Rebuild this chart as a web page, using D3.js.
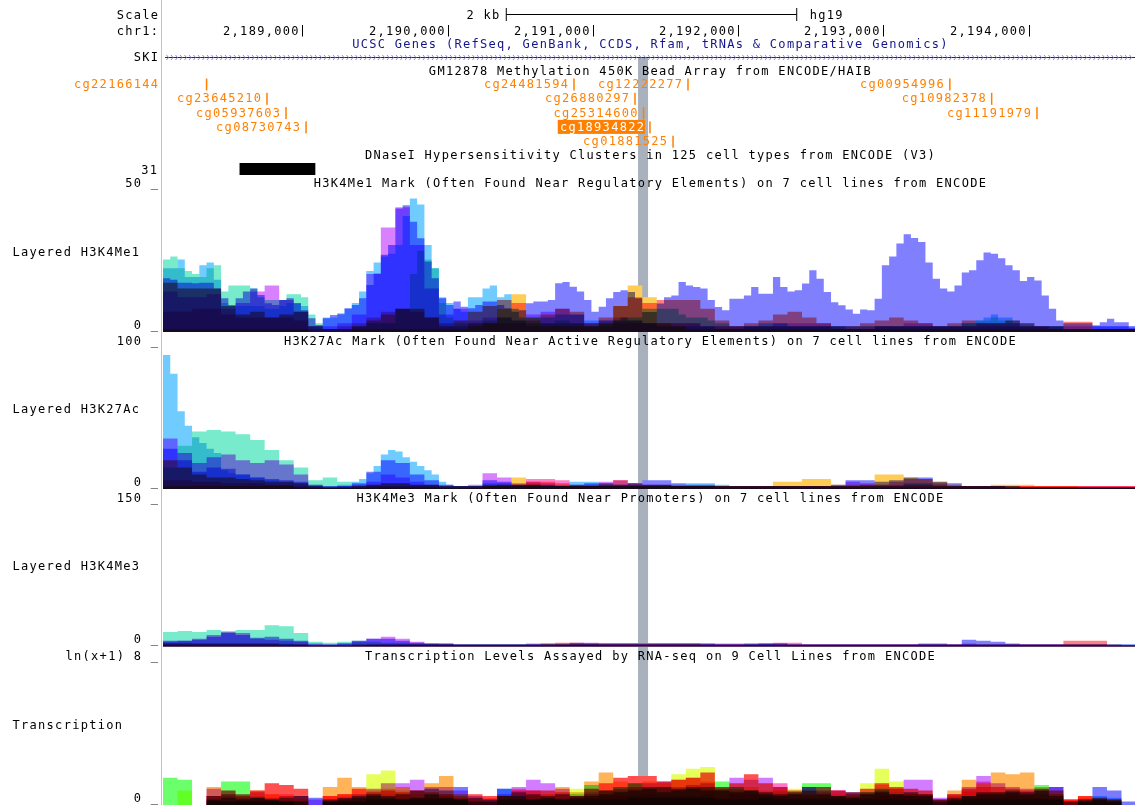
<!DOCTYPE html>
<html><head><meta charset="utf-8">
<script src="https://cdn.jsdelivr.net/npm/d3@7"></script>
<style>
html,body{margin:0;padding:0;background:#fff;overflow:hidden}
svg{display:block}
text{font-family:"DejaVu Sans Mono","Liberation Mono",monospace;font-size:12px;letter-spacing:1.3px;fill:#000}
</style></head><body>
<svg id="c" width="1135" height="805"></svg>
<script>
// ---------------- DATA ----------------
const viewStart = 2188040, viewEnd = 2194733;
const binStart = 2188040;            // first bin of every signal array
const coarseBin = 100, fineBin = 50; // bp per value
const genomeTicks = [2189000, 2190000, 2191000, 2192000, 2193000, 2194000];
const highlightRange = [2191311, 2191380];
const dnaseCluster = [2188567, 2189089];
const dnaseScore = "31";

const cpgNames = ["cg22166144","cg24481594","cg12222277","cg00954996","cg23645210","cg26880297","cg10982378","cg05937603","cg25314600","cg11191979","cg08730743","cg18934822","cg01881525"];
const cpgPos   = [2188340,2190870,2191655,2193458,2188756,2191290,2193746,2188887,2191349,2194058,2189025,2191393,2191552];
const cpgRow   = [0,0,0,0,1,1,1,2,2,2,3,3,4];
const cpgSelected = "cg18934822";

const cellLines = ["GM12878","H1-hESC","HSMM","HUVEC","K562","NHEK","NHLF"];
const cellColors = ["#ff8080","#ffcc55","#78ebcc","#8080ff","#70ccff","#d980ff","#ff80c8"];

// H3K4Me1 (0-50)
const me1_GM12878 = [17,15,15,15, 9,6,7,5,6,7, 2,1,1,2,4, 6,8,8,5,2, 4,7,9,11,10, 4,6,8,7,3, 5,9,12,10,11, 11,11,8,4,2, 3,4,6,7,5, 3,2,2,3,4, 5,4,3,2,3, 4,3,3,4,3, 2,2,3.5,3.5,1, 1,1];
const me1_H1 = [1,1,1,1, 1,1,1,1,1,1, 0,0,0,1,1, 1,1,1,1,1, 1,2,3,8,13, 5,2,2,2,2, 3,9,16,12,3, 2,1,1,1,1, 1,1,1,1,1, 1,1,1,1,1, 1,1,1,1,1, 1,1,1,1,1, 1,1,1,1,1, 1,1];
// 50 bp resolution
const me1_HSMM = [25,26,22,21,20,19,22,23,14,16, 16,16,15,12,11,11,11,13,13,12, 6,3,1,1,1,1,2,2,3,3, 3,3,8,8,20,28,25,22,10,5, 3,3,3,3,4,4,5,5,4,4, 3,3,3,3,4,4,3,3,2,2, 3,3,4,5,5,5,
  8,8,8,8,8,6,5,5,5,4, 3,3,2,2,2,2,2,2,2,2, 2,2,2,2,2,2,2,2,2,2, 2,2,2,2,2,2,2,2,2,2, 2,2,2,2,3,3,4,4,5,4, 4,3,2,2,2,2,2,2,1,1, 1,1,1,1,1,1,1,1];
const me1_HUVEC = [18.5,18,17,17,16.8,17,17,15,11.6,9.3, 11.6,14,15,12.8,9.9,9.3,11,11.6,9.9,7.5, 4.7,2.4,4.7,5.9,6.4,8.2,9.3,11.6,16.2,20.2, 26.6,30,42.6,43.7,38,32.3,24.3,18.5,11.6,9.3, 10.5,8.7,8.2,9.3,10.5,10.5,9.3,8.2,7,7.5, 9.9,10.5,10.5,11,16.8,17.2,15.6,14,11,7, 8.7,11.6,13.8,14.4,13.8,11.6,
  6.9,6.9,9.8,12,12.6,17.2,16,15.5,15,11, 8.6,7.5,11.5,11.5,12.6,15.5,13.2,13.2,19,15.5, 14,14.4,16.7,21.3,18.4,13.8,10.3,9.2,7.8,6.3, 7.8,7.5,11.5,23,26,30.5,33.7,32.4,31,24, 18.4,15,14,16,20.5,21.3,24.7,27.4,27,25.4, 23,21.3,17.6,19,17.8,12.6,8,4,3,3, 3,3,2.3,3.4,4.6,3.4,3.4,1.3];
const me1_K562 = [22,22,25,19,19,23,24,18,10,9, 9,9,9,9,8,8,9,10,10,9, 2,2,5,5,6,8,10,14,21,24, 26,27,30,40,46,44,30,22,12,10, 8,7,12,12,15,16,12,13,8,5, 5,5,5,5,6,6,6,6,4,4, 4,4,4,4,4,4,
  3,3,2,2,2,2,2,2,2,2, 1,1,1,1,2,2,3,3,3,3, 2,2,2,2,2,2,2,2,1,1, 1,1,2,2,2,2,2,2,2,2, 2,2,2,2,3,3,4,5,6,5, 5,4,3,3,2,2,2,2,1,1, 1,1,2,2,2,2,2,2];
const me1_NHEK = [14,12,12,13, 8,10,14,16,11,7, 2,2,3,6,20, 36,43,30,15,6, 8,4,5,5,4, 6,7,8,6,3, 4,5,4,3,3, 3,3,2,2,2, 2,2,3,3,3, 3,2,2,2,2, 2,3,3,2,2, 2,3,3,3,2, 2,2,2,2,2, 2,2];
const me1_NHLF = [7,7,8,8, 6,5,5,5,5,4, 1,1,2,3,5, 7,8,7,5,3, 2,3,3,3,3, 2,3,3,3,2, 2,3,3,3,3, 3,3,2,2,2, 2,2,2,2,2, 2,1,1,1,2, 2,2,2,2,2, 2,2,2,2,2, 2,1,1,1,1, 1,1];

// H3K27Ac (0-100)
const ac_GM12878 = [20,15,10,8, 8,7,6,5,5,4, 2,1,1,2,3, 4,4,3,3,2, 2,2,3,3,3, 5,5,4,2,2, 4,6,4,3,3, 2,2,2,2,2, 2,2,2,2,2, 2,2,2,3,3, 3,3,3,3,2, 2,2,2,2,2, 2,2,2,2,2, 2,2];
const ac_H1 = [2,2,2,2, 2,2,2,2,2,1, 1,1,1,1,1, 1,1,1,1,1, 1,1,2,3,8, 4,2,2,2,2, 2,2,2,2,2, 2,2,2,2,2, 2,2,5,5,7, 7,3,3,3,10, 10,8,7,5,3, 2,2,3,3,3, 2,2,2,1,1, 1,1];
const ac_HSMM = [15,30,40,41, 40,38,34,27,20,15, 6,8,5,2,3, 4,4,3,3,2, 2,2,2,2,2, 2,2,2,2,2, 2,2,2,2,2, 2,2,2,1,1, 1,1,1,1,1, 1,1,1,1,1, 1,1,1,1,1, 1,1,1,1,1, 1,1,1,1,1, 1,1];
const ac_HUVEC = [28,20,12,15, 14,10,8,7,6,5, 2,1,2,4,12, 20,18,10,6,3, 2,2,6,5,3, 3,3,2,3,4, 3,3,4,6,6, 4,3,3,2,2, 2,2,2,2,2, 2,3,6,6,5, 6,8,8,5,4, 2,2,2,1,1, 1,1,1,1,1, 1,1];
// 50 bp resolution
const ac_K562 = [93,80,54,44,36,32,28,25,13,11, 10,10,8,8,6,6,5,5,4,4, 3,3,2,2,3,3,5,7,11,16, 24,27,26,22,19,16,13,10,5,3, 2,2,2,2,4,4,4,4,3,3, 3,3,2,2,2,2,5,5,5,5, 4,4,3,3,3,3,
  3,3,3,3,3,3,4,4,4,4, 3,3,2,2,2,2,2,2,2,2, 2,2,2,2,2,2,2,2,2,2, 2,2,2,2,2,2,4,4,4,4, 2,2,2,2,2,2,2,2,2,2, 2,2,1,1,1,1,1,1,1,1, 1,1,1,1,1,1,1,1];
const ac_NHEK = [35,25,18,22, 24,20,18,20,17,10, 3,2,2,3,5, 10,8,5,3,2, 2,3,11,8,4, 5,4,3,2,3, 5,6,4,3,3, 2,2,2,2,2, 2,2,2,2,2, 2,2,5,4,3, 5,7,7,4,2, 2,2,2,1,1, 1,1,1,1,1, 1,1];
const ac_NHLF = [6,6,5,5, 4,4,4,3,3,2, 1,1,1,1,2, 2,2,2,2,1, 1,1,2,2,2, 7,7,6,3,2, 2,2,2,2,2, 2,2,2,2,2, 2,2,2,2,2, 2,2,2,2,2, 2,2,2,2,2, 2,2,2,2,2, 2,2,2,2,2, 2,2];

// H3K4Me3 (0-150)
const me3_GM12878 = [3,3,3,3, 3,3,3,3,2,2, 1,1,1,2,2, 2,2,2,2,2, 2,2,2,2,2, 2,3,4,4,3, 3,3,3,3,3, 3,3,2,2,2, 2,2,2,2,2, 2,2,2,2,2, 2,2,2,2,2, 2,2,2,2,2, 2,2,6,6,6, 2,1];
const me3_H1 = [1,1,1,1, 1,1,1,1,1,1, 1,1,1,1,1, 1,1,1,1,1, 1,1,1,1,1, 1,1,1,1,1, 1,1,1,1,1, 1,1,1,1,1, 1,1,1,1,1, 1,1,1,1,1, 1,1,1,1,1, 1,1,1,1,1, 1,1,1,1,1, 1,1];
const me3_HSMM = [15,16,15,17, 16,17,17,22,21,14, 5,4,5,6,5, 4,4,3,3,2, 2,2,2,2,2, 2,2,2,2,2, 1,1,1,1,1, 1,1,1,1,1, 1,1,1,1,1, 1,1,1,1,1, 1,1,1,1,1, 1,1,1,1,1, 1,1,1,1,1, 1,1];
const me3_HUVEC = [6,6,7,10, 14,12,9,10,8,6, 2,2,3,6,8, 8,6,4,3,3, 2,2,2,2,2, 2,2,2,3,3, 3,3,3,3,3, 3,3,3,2,2, 2,3,3,2,2, 2,2,2,2,2, 2,2,3,3,2, 7,6,5,3,2, 2,2,2,2,2, 2,2];
const me3_K562 = [4,4,3,3, 3,3,3,3,3,2, 1,1,1,2,2, 2,2,2,2,2, 2,2,2,2,2, 2,2,2,2,2, 2,2,2,2,2, 2,2,2,2,2, 3,3,2,2,2, 2,2,2,2,2, 2,2,2,2,2, 2,2,2,2,2, 2,2,2,2,2, 2,2];
const me3_NHEK = [5,6,8,12, 15,14,8,7,6,5, 3,2,3,5,8, 10,8,5,3,3, 2,2,2,2,2, 3,3,3,4,4, 3,3,3,3,3, 3,3,3,3,3, 3,3,3,2,2, 2,2,2,2,2, 2,2,2,2,2, 3,2,2,2,2, 2,2,2,2,2, 1,1];
const me3_NHLF = [2,2,2,2, 2,2,2,2,2,2, 1,1,1,1,2, 2,2,2,2,2, 1,1,1,1,1, 1,1,2,2,2, 2,2,2,2,2, 2,2,2,2,2, 2,2,4,4,2, 2,2,2,2,2, 2,2,2,2,2, 2,2,2,2,2, 2,2,2,2,2, 1,1];

// Transcription ln(x+1) (0-8), 9 cell lines
const txColors = ["#6cff6c","#e6ff5a","#ffb45a","#ff5050","#d27dff","#7a7aff","#6ec8ff","#ff78c8","#ff8c8c"];
const tx_1 = [1.5,1.4,0,0.3,1.3, 1.3,0.4,0.3,0.2,0, 0,0.2,0.3,0.4,0.5, 0.4,0.3,0.4,0.6,0.4, 0.3,0,0,0.3,0.3, 0.3,0.4,0.3,0.6,1.1, 0.8,1.0,1.2,0.9,0.7, 0.8,0.9,0.8,1.3,1.0, 0.8,0.6,0.5,0.7,1.2, 1.2,0.5,0.4,0.7,0.9, 0.6,0.5,0.5,0,0.3, 0.5,0.6,0.7,0.8,0.6, 1.1,0.5,0,0.2,0.3, 0.2,0];
const tx_2 = [0,0.8,0,0,0, 0.3,0.2,0.2,0.2,0.2, 0,0.2,0.2,0.2,1.7, 1.9,0.8,0.4,0.4,0.5, 0.3,0,0,0.2,0.2, 0.2,0.2,0.3,0.9,0.6, 0.8,0.7,0.9,0.8,1.0, 1.7,2.0,2.1,1.0,0.8, 0.7,0.6,0.8,0.9,0.5, 0.5,0.4,0.5,1.2,2.0, 1.3,0.6,0.5,0,0.3, 0.3,0.4,0.4,0.5,0.5, 0.6,0.3,0,0,0, 0,0];
const tx_3 = [0,0,0,1.0,0.6, 0.5,0.8,0.6,0.5,0.3, 0,1.0,1.5,1.0,0.8, 0.9,1.0,0.8,1.2,1.6, 0.6,0.3,0.2,0.5,0.4, 0.5,0.6,1.0,0.7,1.3, 1.8,1.3,1.2,1.3,1.2, 1.4,1.5,1.3,0.8,0.9, 1.0,0.8,0.6,0.6,0.5, 0.6,0.5,0.4,0.6,1.1, 0.9,0.6,0.6,0.2,0.8, 1.4,1.2,1.8,1.7,1.8, 1.0,0.6,0.3,0.5,0.4, 0.3,0];
const tx_4 = [0,0,0,0.5,0.8, 0.6,0.8,1.2,1.1,0.9, 0,0.5,0.6,0.9,0.7, 0.8,0.7,0.8,0.7,0.6, 0.4,0.6,0.5,0.5,0.8, 0.8,0.8,0.7,0.5,0.9, 1.2,1.5,1.6,1.6,1.3, 1.4,1.5,1.8,1.0,1.2, 1.7,1.2,1.0,0.8,0.8, 1.0,0.8,0.7,0.9,1.2, 1.0,0.9,0.8,0.3,0.6, 0.9,1.0,1.0,0.9,0.8, 0.9,0.8,0.3,0.5,0.3, 0.2,0];
const tx_5 = [0,0,0,0.9,0.6, 0.4,0.7,0.4,0.5,0.5, 0.3,0.3,0.4,0.6,0.9, 1.2,1.2,1.4,1.0,1.0, 0.8,0.5,0.3,0.6,1.0, 1.4,1.2,0.9,0.5,0.6, 0.8,0.9,1.0,1.2,1.3, 1.0,1.1,1.2,0.9,1.5, 1.4,1.5,1.0,0.7,1.0, 0.8,0.8,0.6,0.7,0.8, 0.9,1.4,1.4,0.4,0.6, 1.0,1.6,1.2,1.0,0.9, 0.8,1.0,0.2,0.3,0.4, 0.3,0];
const tx_6 = [0,0,0,0.5,0.4, 0.3,0.4,0.3,0.4,0.5, 0.4,0.3,0.4,0.5,0.6, 0.5,0.6,0.8,0.9,0.8, 1.0,0.4,0.3,0.9,0.7, 0.6,0.5,0.6,0.4,0.5, 0.6,0.7,0.8,1.0,1.0, 0.9,1.0,1.0,0.8,0.7, 0.8,0.7,0.6,0.6,1.0, 0.6,0.5,0.7,0.6,0.7, 0.6,0.7,0.6,0.3,0.4, 0.5,0.7,0.6,0.7,0.7, 0.8,1.0,0.2,0.3,1.0, 0.8,0.2];
const tx_7 = [0,0,0,0.2,0.2, 0.2,0.2,0.2,0.2,0.2, 0,0.2,0.2,0.2,0.3, 0.3,0.3,0.3,0.3,0.3, 0.3,0.2,0.2,0.9,0.5, 0.3,0.3,0.3,0.3,0.3, 0.3,0.3,0.4,0.4,0.4, 0.4,0.4,0.4,0.3,0.3, 0.3,0.4,0.3,0.3,0.3, 0.3,0.3,0.3,0.3,0.3, 0.3,0.3,0.3,0.2,0.2, 0.3,0.3,0.3,0.3,0.3, 0.3,0.3,0,0.2,0.5, 0.4,0];
const tx_8 = [0,0,0,0.3,0.2, 0.2,0.3,0.3,0.3,0.2, 0,0.2,0.2,0.3,0.3, 0.3,0.4,0.4,0.4,0.4, 0.3,0.2,0.2,0.3,0.9, 0.8,0.5,0.4,0.3,0.4, 0.5,0.5,0.5,0.6,0.5, 0.5,0.5,0.6,0.4,0.6, 0.6,0.5,1.2,0.4,0.4, 0.4,0.8,0.4,0.4,0.5, 0.5,0.6,0.6,0.2,0.4, 0.8,1.3,0.7,0.6,0.5, 0.4,0.4,0.2,0.3,0.2, 0.2,0];
const tx_9 = [0,0,0,0.5,0.5, 0.5,0.5,0.6,0.6,0.5, 0,0.5,0.6,0.6,0.6, 0.6,0.6,0.6,0.6,0.6, 0.5,0.4,0.4,0.5,0.6, 0.6,0.6,0.6,0.5,0.7, 0.8,0.8,0.9,0.9,0.9, 0.9,0.9,0.9,0.8,0.8, 0.8,0.7,0.7,0.6,0.6, 0.7,0.6,0.6,0.6,0.7, 0.7,0.7,0.6,0.3,0.5, 0.7,0.7,0.7,0.7,0.7, 0.6,0.6,0.3,0.4,0.3, 0.3,0];

// ---------------- DRAW ----------------
const W = 1135, H = 805, X0 = 163, X1 = 1135;
const x = d3.scaleLinear().domain([viewStart, viewEnd]).range([X0, X1]);
const svg = d3.select('#c');
svg.append('rect').attr('width', W).attr('height', H).attr('fill', '#fff');

// highlight band (beneath data; data is multiplied over it)
svg.append('rect').attr('x', x(highlightRange[0])).attr('width', x(highlightRange[1]) - x(highlightRange[0]))
  .attr('y', 58).attr('height', H - 58).attr('fill', '#a9b1bc');

// red separator
svg.append('rect').attr('x', 161).attr('y', 0).attr('width', 1).attr('height', H).attr('fill', '#ffaaaa');

const defs = svg.append('defs');
defs.append('clipPath').attr('id', 'dclip').append('rect').attr('x', X0).attr('y', 0).attr('width', X1 - X0).attr('height', H);

function txt(s, xx, yy, anchor, color) {
  const t = svg.append('text').attr('x', anchor === 'end' ? xx + 1.3 : xx).attr('y', yy)
    .attr('text-anchor', anchor || 'start').text(s);
  if (color) t.style('fill', color);
  return t;
}
const CX = (X0 + X1) / 2 + 1.5;

// Scale row
txt('Scale', 158, 19.3, 'end');
const barCenter = x.invert(651.5);
const bx0 = x(barCenter - 1000), bx1 = x(barCenter + 1000);
svg.append('line').attr('x1', bx0).attr('x2', bx1).attr('y1', 14.5).attr('y2', 14.5).attr('stroke', '#000');
[bx0, bx1].forEach(b => svg.append('line').attr('x1', b).attr('x2', b).attr('y1', 8).attr('y2', 21).attr('stroke', '#000'));
txt('2 kb', bx0 - 7, 19, 'end');
txt('hg19', bx1 + 13, 18.5, 'start');

// chromosome ticks
txt('chr1:', 158, 35, 'end');
const fmt = d3.format(',');
genomeTicks.forEach(t => {
  const tx = Math.round(x(t)) + 0.5;
  svg.append('line').attr('x1', tx).attr('x2', tx).attr('y1', 25).attr('y2', 36.5).attr('stroke', '#000');
  txt(fmt(t), tx - 4, 35, 'end');
});

// gene track
txt('UCSC Genes (RefSeq, GenBank, CCDS, Rfam, tRNAs & Comparative Genomics)', CX, 48, 'middle', '#14148c');
txt('SKI', 158, 61, 'end');
svg.append('line').attr('x1', X0 + 2).attr('x2', X1).attr('y1', 57.5).attr('y2', 57.5).attr('stroke', '#1e1e8c');
const chev = d3.range(X0 + 5, X1, 4.5);
svg.append('path').attr('d', chev.map(c => `M${c - 1.5},55 L${c + 0.5},57.5 L${c - 1.5},60`).join(' '))
  .attr('fill', 'none').attr('stroke', '#8c8cc8').attr('stroke-width', 1);

// methylation track
txt('GM12878 Methylation 450K Bead Array from ENCODE/HAIB', CX, 74.5, 'middle');
const PITCH = 8.52;
cpgNames.forEach((n, i) => {
  const base = 88 + cpgRow[i] * 14.3;
  const px = x(cpgPos[i]);
  svg.append('rect').attr('x', px - 0.75).attr('y', base - 9.5).attr('width', 1.5).attr('height', 12).attr('fill', '#ff8000');
  let endX = px - 6;
  const w = n.length * PITCH;
  if (endX - w < X0) endX = 158;
  if (n === cpgSelected) {
    svg.append('rect').attr('x', endX - w - 1).attr('y', base - 11).attr('width', w + 2).attr('height', 14).attr('fill', '#ff8000');
    txt(n, endX, base, 'end', '#fff');
  } else {
    txt(n, endX, base, 'end', '#ff8000');
  }
});

// DNase track
txt('DNaseI Hypersensitivity Clusters in 125 cell types from ENCODE (V3)', CX, 159.3, 'middle');
txt(dnaseScore, 157, 173.5, 'end');
svg.append('rect').attr('x', x(dnaseCluster[0])).attr('width', x(dnaseCluster[1]) - x(dnaseCluster[0]))
  .attr('y', 163).attr('height', 12).attr('fill', '#000');

// wiggle tracks
const S = (values, color, size) => ({ values, color, size: size || coarseBin });
const tracks = [
  { title: 'H3K4Me1 Mark (Often Found Near Regulatory Elements) on 7 cell lines from ENCODE', label: 'Layered H3K4Me1',
    top: 187, bottom: 332, max: 50, maxLabel: '50 _',
    series: [S(me1_GM12878, cellColors[0]), S(me1_H1, cellColors[1]), S(me1_HSMM, cellColors[2], fineBin),
             S(me1_HUVEC, cellColors[3], fineBin), S(me1_K562, cellColors[4], fineBin), S(me1_NHEK, cellColors[5]), S(me1_NHLF, cellColors[6])] },
  { title: 'H3K27Ac Mark (Often Found Near Active Regulatory Elements) on 7 cell lines from ENCODE', label: 'Layered H3K27Ac',
    top: 345, bottom: 489, max: 100, maxLabel: '100 _',
    series: [S(ac_GM12878, cellColors[0]), S(ac_H1, cellColors[1]), S(ac_HSMM, cellColors[2]), S(ac_HUVEC, cellColors[3]),
             S(ac_K562, cellColors[4], fineBin), S(ac_NHEK, cellColors[5]), S(ac_NHLF, cellColors[6])] },
  { title: 'H3K4Me3 Mark (Often Found Near Promoters) on 7 cell lines from ENCODE', label: 'Layered H3K4Me3',
    top: 502, bottom: 646.5, max: 150, maxLabel: '150 _',
    series: [S(me3_GM12878, cellColors[0]), S(me3_H1, cellColors[1]), S(me3_HSMM, cellColors[2]), S(me3_HUVEC, cellColors[3]),
             S(me3_K562, cellColors[4]), S(me3_NHEK, cellColors[5]), S(me3_NHLF, cellColors[6])] },
  { title: 'Transcription Levels Assayed by RNA-seq on 9 Cell Lines from ENCODE', label: 'Transcription',
    top: 660, bottom: 805, max: 8, maxLabel: 'ln(x+1) 8 _',
    series: [tx_1, tx_2, tx_3, tx_4, tx_5, tx_6, tx_7, tx_8, tx_9].map((v, i) => S(v, txColors[i])) }
];

const plot = svg.append('g').attr('clip-path', 'url(#dclip)');
tracks.forEach(t => {
  const y = d3.scaleLinear().domain([0, t.max]).range([t.bottom, t.top]).clamp(true);
  const area = d3.area().x(d => x(d.g)).y0(t.bottom).y1(d => y(d.v)).curve(d3.curveStepAfter);
  const g = plot.append('g');
  t.series.forEach(s => {
    const pts = s.values.map((v, i) => ({ g: binStart + i * s.size, v }));
    pts.push({ g: binStart + s.values.length * s.size, v: s.values[s.values.length - 1] });
    g.append('path').datum(pts).attr('d', area).attr('fill', s.color).style('mix-blend-mode', 'multiply');
  });
});

// track labels on top
tracks.forEach(t => {
  txt(t.title, CX, t.top + 0.3, 'middle');
  txt(t.maxLabel, 158, t.top + 0.3, 'end');
  txt('0 _', 158, t.bottom - 3.5, 'end');
  txt(t.label, 12.5, (t.top + t.bottom) / 2 - 4, 'start');
});
svg.selectAll('text').raise();
</script>
</body></html>
